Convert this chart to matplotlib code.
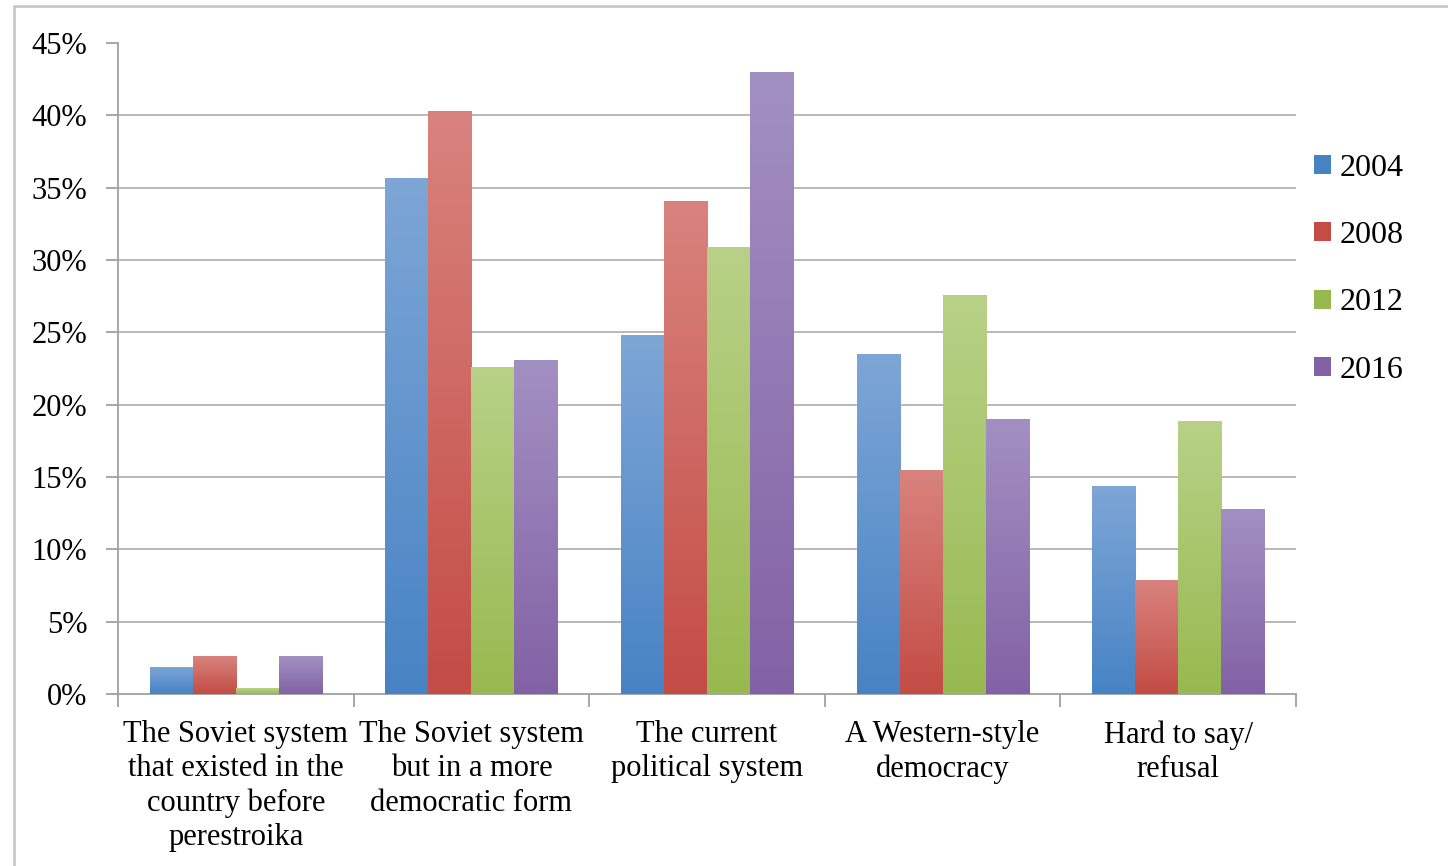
import numpy as np
import matplotlib
matplotlib.use('Agg')
import matplotlib.pyplot as plt
from matplotlib.colors import LinearSegmentedColormap
from matplotlib.patches import Rectangle

plt.rcParams['font.family'] = ['Liberation Serif', 'DejaVu Serif']

categories = ['The Soviet system\nthat existed in the\ncountry before\nperestroika',
              'The Soviet system\nbut in a more\ndemocratic form',
              'The current\npolitical system',
              'A Western-style\ndemocracy',
              'Hard to say/\nrefusal']
years = ['2004', '2008', '2012', '2016']
v2004 = [1.9, 35.7, 24.8, 23.5, 14.4]
v2008 = [2.6, 40.3, 34.1, 15.5, 7.9]
v2012 = [0.4, 22.6, 30.9, 27.6, 18.9]
v2016 = [2.6, 23.1, 43.0, 19.0, 12.8]
series = [v2004, v2008, v2012, v2016]

# (top, bottom) gradient colours
grads = [('#7ea6d6', '#4783c4'),
         ('#d9837e', '#c34c45'),
         ('#b8d187', '#98b950'),
         ('#a390c2', '#8262a5')]

fig = plt.figure(figsize=(14.48, 8.66), dpi=100)
ax = fig.add_axes([118/1448, 1-694/866, (1296-118)/1448, (694-43)/866])

n = len(categories)
x = np.arange(n)
w = 0.1826
grad = np.linspace(0, 1, 256).reshape(-1, 1)
for i, vals in enumerate(series):
    cmap = LinearSegmentedColormap.from_list('g%d' % i, [grads[i][1], grads[i][0]])
    pos = x - 2*w + i*w + w/2
    bars = ax.bar(pos, vals, w, color=grads[i][1], linewidth=0, zorder=2)
    for b in bars:
        bx, by = b.get_x(), b.get_y()
        bw, bh = b.get_width(), b.get_height()
        im = ax.imshow(grad, cmap=cmap, origin='lower', aspect='auto',
                       extent=[bx, bx+bw, by, by+bh], zorder=3)
        im.set_clip_path(b)

ax.set_xlim(-0.5, n-0.5)
ax.set_ylim(0, 45)
ax.set_yticks(np.arange(0, 46, 5))
ax.set_yticklabels(['%d%%' % t for t in range(0, 46, 5)])
for t in np.arange(5, 41, 5):
    ax.axhline(t, color='#b3b3b3', linewidth=1.3, zorder=0)

ax.set_xticks(np.arange(-0.5, n, 1.0))
ax.set_xticklabels([])
ax.set_xticks(x, minor=True)
ax.set_xticklabels(categories, minor=True, fontsize=22, linespacing=1.23)
ax.tick_params(axis='x', which='minor', length=0, pad=19)
ax.tick_params(axis='x', which='major', length=9, color='#a0a0a0', width=1.3, direction='out')
ax.tick_params(axis='y', length=9, color='#a0a0a0', width=1.3, labelsize=22, pad=13)

for s in ['top', 'right']:
    ax.spines[s].set_visible(False)
ax.spines['left'].set_color('#a0a0a0')
ax.spines['bottom'].set_color('#a0a0a0')
ax.spines['left'].set_linewidth(1.3)
ax.spines['bottom'].set_linewidth(1.3)

handles = [Rectangle((0, 0), 1, 1, facecolor=g[1], edgecolor='none') for g in grads]
leg = fig.legend(handles, years, loc='upper left', bbox_to_anchor=(1301/1448, 1-141/866),
                 frameon=False, fontsize=23, handlelength=0.55, handleheight=0.55,
                 handletextpad=0.25, labelspacing=1.2, borderaxespad=0)

fig.patches.append(Rectangle((14/1448, -0.01), 1.0, 1-6/866+0.01, transform=fig.transFigure,
                             fill=False, edgecolor='#c8c8c8', linewidth=2))

fig.savefig('out.png', dpi=100)
